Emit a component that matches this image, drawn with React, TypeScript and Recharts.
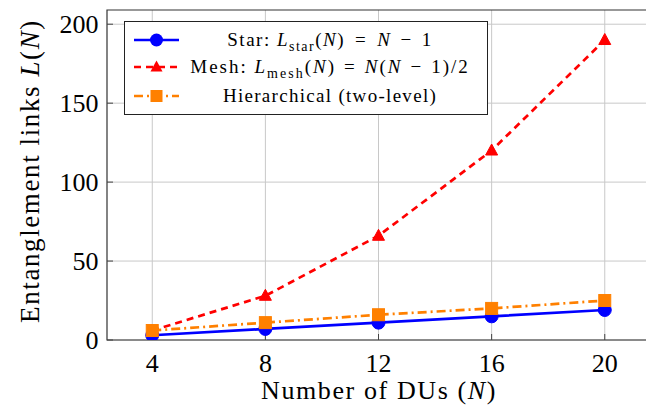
import React from 'react';
import { LineChart, Line, XAxis, YAxis, CartesianGrid, ReferenceArea, Label } from 'recharts';

const duCounts = [4, 8, 12, 16, 20];
const starLinks = [3, 7, 11, 15, 19];
const meshLinks = [6, 28, 66, 120, 190];
const hierLinks = [6, 11, 16, 20, 25];
const xTicks = [4, 8, 12, 16, 20];
const yTicks = [0, 50, 100, 150, 200];

const data = duCounts.map((n, i) => ({ n, star: starLinks[i], mesh: meshLinks[i], hier: hierLinks[i] }));

const FONT = '"Liberation Serif", "DejaVu Serif", serif';
const BLUE = '#0000ff';
const RED = '#ff0000';
const ORANGE = '#ff8000';
const X_DOMAIN: [number, number] = [2.4, 21.6];
const Y_DOMAIN: [number, number] = [0, 209];

const CircleDot = (p: any) => <circle key={p.index} cx={p.cx} cy={p.cy} r={6.5} fill={BLUE} stroke={BLUE} />;
const TriDot = (p: any) => (
  <polygon key={p.index} points={`${p.cx},${p.cy - 6.5} ${p.cx - 6},${p.cy + 4.5} ${p.cx + 6},${p.cy + 4.5}`} fill={RED} stroke={RED} />
);
const SquareDot = (p: any) => <rect key={p.index} x={p.cx - 6} y={p.cy - 6} width={12} height={12} fill={ORANGE} stroke={ORANGE} />;

const Op = ({ c, m }: { c: string; m: number }) => <span style={{ margin: `0 ${m}px` }}>{c}</span>;

const LegendBox = () => {
  const rows = [
    {
      color: BLUE, dash: undefined as string | undefined, marker: 'circle', ls: 1.5,
      text: (<span>Star: <i>L</i><sub style={{ fontSize: 14 }}>star</sub>(<i>N</i>)<Op c="=" m={10} /><i>N</i><Op c="−" m={9} />1</span>),
    },
    {
      color: RED, dash: '7 5', marker: 'tri', ls: 2,
      text: (<span>Mesh: <i>L</i><sub style={{ fontSize: 14 }}>mesh</sub>(<i>N</i>)<Op c="=" m={8} /><i>N</i>(<i>N</i><Op c="−" m={8} />1)/2</span>),
    },
    {
      color: ORANGE, dash: '9 4 2 4', marker: 'sq', ls: 1.3,
      text: (<span>Hierarchical (two-level)</span>),
    },
  ];
  const tops = [5, 32, 61];
  return (
    <div style={{ position: 'absolute', left: 124, top: 21, width: 364, height: 94, border: '1.3px solid #222', background: '#fff', boxSizing: 'border-box', fontFamily: FONT, fontSize: 19, color: '#000' }}>
      {rows.map((r, i) => (
        <div key={i} style={{ position: 'absolute', left: 0, right: 0, top: tops[i] - 1, height: 28 }}>
          <svg width={60} height={28} style={{ position: 'absolute', left: 0, top: 0 }}>
            <line x1={9} y1={14} x2={54} y2={14} stroke={r.color} strokeWidth={2.5} strokeDasharray={r.dash} />
            {r.marker === 'circle' && <circle cx={31.5} cy={14} r={6.5} fill={r.color} />}
            {r.marker === 'tri' && <polygon points="31.5,7.5 25.5,18.5 37.5,18.5" fill={r.color} />}
            {r.marker === 'sq' && <rect x={25.5} y={8} width={12} height={12} fill={r.color} />}
          </svg>
          <div style={{ position: 'absolute', left: 48, right: 0, top: 0, height: 28, lineHeight: '28px', textAlign: 'center', whiteSpace: 'nowrap', letterSpacing: r.ls }}>{r.text}</div>
        </div>
      ))}
    </div>
  );
};

const YLabel = () => (
  <text x={0} y={0} transform="translate(39,171) rotate(-90)" textAnchor="middle" fontFamily={FONT} fontSize={27} letterSpacing={1.6} fill="#000">
    Entanglement links <tspan fontStyle="italic">L</tspan>(<tspan fontStyle="italic">N</tspan>)
  </text>
);

const XLabel = () => (
  <text x={379} y={399} textAnchor="middle" fontFamily={FONT} fontSize={26} letterSpacing={1.6} fill="#000">
    Number of DUs (<tspan fontStyle="italic">N</tspan>)
  </text>
);

export default function App() {
  return (
    <div style={{ position: 'absolute', left: 0, top: 0, width: 646, height: 408, background: '#fff', overflow: 'hidden' }}>
      <LineChart width={652} height={408} data={data} margin={{ top: 10, right: 2, bottom: 0, left: 0 }}>
        <CartesianGrid stroke="#c8c8c8" strokeWidth={1} vertical horizontal verticalValues={xTicks} horizontalValues={yTicks} />
        <XAxis
          dataKey="n"
          type="number"
          domain={X_DOMAIN}
          ticks={xTicks}
          allowDataOverflow
          height={68}
          tickSize={-6}
          tickMargin={20}
          axisLine={false}
          tickLine={{ stroke: '#444', strokeWidth: 1 }}
          tick={{ fontFamily: FONT, fontSize: 26, fill: '#000' }}
        >
          <Label content={XLabel} />
        </XAxis>
        <XAxis
          xAxisId="top"
          orientation="top"
          dataKey="n"
          type="number"
          domain={X_DOMAIN}
          ticks={xTicks}
          allowDataOverflow
          height={0}
          tickSize={-6}
          axisLine={false}
          tickLine={{ stroke: '#444', strokeWidth: 1 }}
          tick={{ fontSize: 0, fill: 'none' }}
        />
        <YAxis
          type="number"
          domain={Y_DOMAIN}
          ticks={yTicks}
          allowDataOverflow
          width={107}
          tickSize={-6}
          tickMargin={14.5}
          axisLine={false}
          tickLine={{ stroke: '#444', strokeWidth: 1 }}
          tick={{ fontFamily: FONT, fontSize: 26, fill: '#000' }}
        >
          <Label content={YLabel} />
        </YAxis>
        <YAxis
          yAxisId="right"
          orientation="right"
          type="number"
          domain={Y_DOMAIN}
          ticks={yTicks}
          allowDataOverflow
          width={0}
          tickSize={-6}
          axisLine={false}
          tickLine={{ stroke: '#444', strokeWidth: 1 }}
          tick={{ fontSize: 0, fill: 'none' }}
        />
        <ReferenceArea x1={X_DOMAIN[0]} x2={X_DOMAIN[1]} y1={Y_DOMAIN[0]} y2={Y_DOMAIN[1]} fill="none" stroke="#333" strokeWidth={1.2} ifOverflow="visible" />
        <Line dataKey="star" stroke={BLUE} strokeWidth={2.7} dot={<CircleDot />} isAnimationActive={false} />
        <Line dataKey="mesh" stroke={RED} strokeWidth={2.7} strokeDasharray="7 5" dot={<TriDot />} isAnimationActive={false} />
        <Line dataKey="hier" stroke={ORANGE} strokeWidth={2.7} strokeDasharray="9 4 2 4" dot={<SquareDot />} isAnimationActive={false} />
      </LineChart>
      <LegendBox />
    </div>
  );
}
